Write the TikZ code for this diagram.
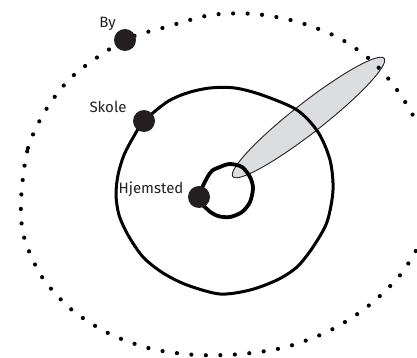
\documentclass[tikz,border=0pt]{standalone}
\usepackage{fontspec}
\setmainfont{Fira Sans}
\definecolor{tmava}{HTML}{231F20}
\definecolor{seda}{HTML}{DCDDDF}
\tikzset{
  bod/.style={circle, fill=tmava, inner sep=0pt, minimum size=22pt},
  popis/.style={text=tmava, font=\fontsize{15}{18}\selectfont, inner sep=0pt, anchor=base},
  tecky/.style={line width=4.2pt, line cap=round, dash pattern=on 0pt off 14.5pt},
}
\begin{document}
\begin{tikzpicture}[x=1pt, y=-1pt]
        \useasboundingbox (0,0) rectangle (417,358);

        % Polohy bodu
        \coordinate (by) at (125,40);
        \coordinate (skole) at (144,121);
        \coordinate (hjem) at (199,197);

        % Sedy ovál
        \draw[fill=seda, draw=tmava, line width=0.9pt, rotate around={38:(308.5,117.5)}]
            (308.5,117.5) ellipse [x radius=96pt, y radius=15pt];

        % Vnejsi teckovana krivka (By)
        \draw[tecky] plot[smooth cycle] coordinates {
            (21,200) (28,148) (47,108) (75,74) (by) (166,27) (211,15) (255,14)
            (298,22) (339,38) (374,63) (402,97) (425,140) (437,185) (425,232)
            (401,274) (367,307) (329,331) (286,347) (242,354) (197,355)
            (152,349) (110,334) (72,310) (42,277) (24,237)};

        % Prostredni krivka (Skole)
        \draw[line width=3pt] plot[smooth cycle] coordinates {
            (skole) (167,102) (187,93) (210,88) (235,88) (262,95) (297,110)
            (318,132) (330,160) (333,190) (327,222) (313,247) (297,267)
            (277,280) (250,290) (220,294) (187,285) (163,273) (143,257)
            (128,235) (119,215) (116,195) (118,175) (124,155) (134,136)};

        % Vnitrni smycka (Hjemsted)
        \draw[line width=3.8pt] plot[smooth cycle] coordinates {
            (hjem) (210,173) (220,167) (230,164) (242,167) (250,177) (253,188)
            (250,202) (242,212) (230,217) (218,216) (208,210)};

        % Body a popisky
        \node[bod] (bydot) at (by) {};
        \node[bod] (skoledot) at (skole) {};
        \node[bod] (hjemdot) at (hjem) {};
        \node[popis] (bylbl) at (107.5,27.5) {By};
        \node[popis] (skolelbl) at (108,112.5) {Skole};
        \node[popis] (hjemlbl) at (151,193.5) {Hjemsted};
    \end{tikzpicture}
\end{document}
